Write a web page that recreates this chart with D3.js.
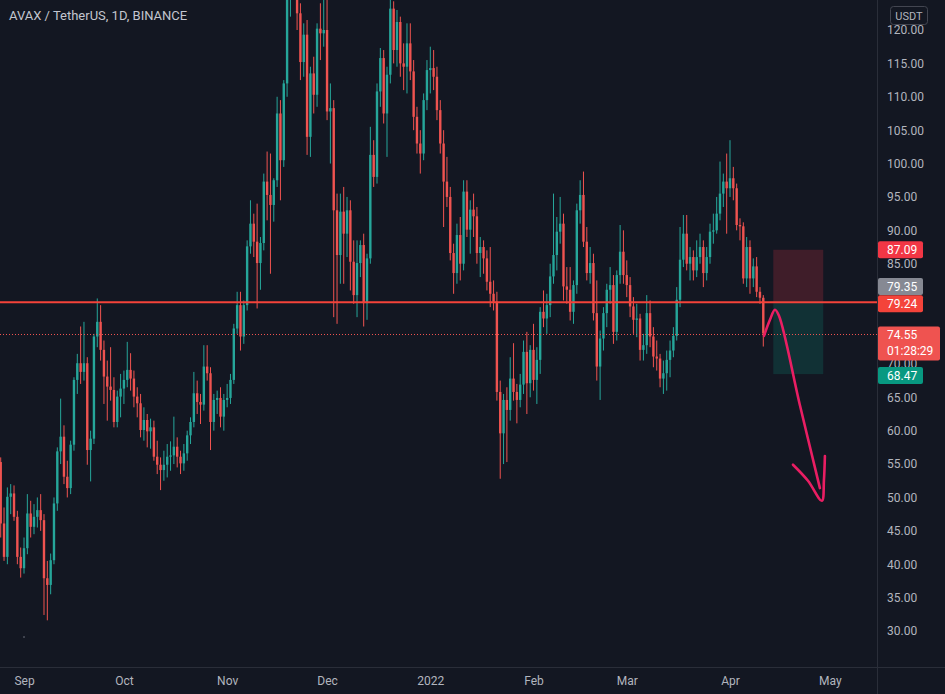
<!DOCTYPE html>
<html><head><meta charset="utf-8">
<script src="https://cdn.jsdelivr.net/npm/d3@7"></script>
<style>
html,body{margin:0;padding:0;background:#131722;overflow:hidden;}
svg{display:block;font-family:"Trebuchet MS",Roboto,"Noto Sans",sans-serif;}
</style></head><body>
<svg id="c" width="945" height="694"></svg>
<script>
// ---------- DATA ----------
const startDate = "2021-08-25";   // first daily candle
const opens = [55.3,46.1,41.1,50.1,50.6,47.1,41.1,39.4,42.4,47.6,
45.6,47.1,48.1,46.6,37.9,36.9,40.6,49.1,56.9,59.1,
53.1,51.4,57.9,67.6,70.1,68.8,70.1,57.1,58.8,74.1,
76.3,72.1,68.1,66.6,66.1,61.3,65.1,66.3,67.6,69.1,
67.8,65.1,64.1,60.1,61.6,59.9,60.5,56.1,54.9,54.1,
54.9,56.1,56.3,57.6,56.1,55.1,56.6,59.3,61.3,65.6,
64.3,63.9,69.6,68.6,61.3,64.6,64.9,62.1,64.6,64.9,
67.6,75.3,78.8,74.1,78.8,87.6,91.0,88.3,85.1,88.1,
97.3,95.3,93.8,97.5,107.5,100.5,112.0,126.0,132.0,138.0,
122.5,115.2,119.3,104.0,113.5,110.3,120.2,119.5,120.0,107.8,
108.3,93.0,86.3,92.8,89.5,93.0,85.3,80.3,85.1,87.8,
79.1,85.8,101.3,98.0,110.8,115.8,107.5,113.3,123.2,117.0,
121.2,115.0,114.5,118.0,113.8,107.0,103.0,101.5,109.5,114.0,
114.3,113.0,108.0,103.0,97.3,95.0,86.6,83.6,89.3,85.0,
95.8,90.1,93.1,92.1,86.6,87.5,85.8,82.3,80.5,79.3,
65.8,59.6,64.6,63.1,67.8,65.8,64.6,66.9,71.8,67.1,
72.1,67.6,70.6,77.8,76.8,78.8,83.1,86.3,89.8,91.0,
81.6,81.1,77.8,81.8,93.0,95.3,88.3,83.6,85.1,77.6,
69.6,73.8,77.6,81.1,81.8,74.8,83.3,86.8,83.3,81.8,
78.6,76.6,76.8,72.1,72.8,77.6,74.1,71.1,70.8,67.8,
68.6,70.6,72.0,74.2,79.6,85.6,89.5,85.0,86.0,84.0,
86.0,87.5,83.6,86.0,89.8,90.0,92.5,95.5,97.3,96.3,
97.8,96.3,90.8,90.6,82.8,87.5,82.8,84.6,80.8,79.9];
const highs = [56.0,48.5,51.5,52.0,51.8,48.0,42.5,44.0,50.5,49.5,
49.0,50.0,50.5,47.5,40.5,41.6,50.0,57.5,64.8,60.8,
55.5,58.5,68.0,71.5,75.6,76.3,71.0,60.0,74.5,79.8,
78.8,73.5,70.5,72.5,68.0,66.0,68.5,69.0,73.3,71.6,
69.0,66.5,65.5,63.5,62.5,61.8,61.5,58.5,56.0,57.0,
58.0,58.4,62.1,59.0,57.0,58.0,60.0,62.0,68.8,67.5,
65.5,72.8,72.8,69.5,65.5,66.0,66.5,65.5,67.0,68.5,
76.0,80.8,80.8,79.5,88.5,94.5,92.5,94.0,89.0,98.5,
101.8,101.5,97.8,110.0,109.5,112.5,128.0,134.0,146.0,140.0,
124.0,121.0,121.5,114.5,116.0,121.0,124.0,126.0,126.0,112.0,
109.5,95.5,95.5,96.5,95.0,94.5,88.5,88.5,88.5,89.5,
86.5,105.5,103.5,112.0,117.3,117.0,114.5,124.5,124.3,123.0,
122.0,118.0,121.0,121.0,115.5,108.5,105.0,110.5,115.5,117.5,
117.0,114.5,109.5,105.0,101.0,96.5,88.0,91.0,92.0,97.5,
97.5,94.5,95.5,93.5,89.0,88.5,87.0,87.5,82.5,80.8,
67.5,65.5,66.5,71.0,73.1,67.0,68.5,73.5,74.8,72.8,
76.0,72.5,78.5,81.0,80.5,85.0,95.5,92.0,95.0,92.5,
84.5,84.5,82.5,94.0,97.5,98.8,90.5,87.5,86.5,82.5,
75.0,78.5,82.0,84.5,83.3,84.0,90.8,90.0,85.5,83.0,
80.0,79.0,77.5,74.5,80.3,79.5,75.5,73.5,71.5,70.5,
72.0,73.5,75.5,81.5,90.5,92.3,92.3,87.5,87.0,88.5,
89.5,88.5,87.5,91.0,92.5,95.0,100.3,98.5,101.5,103.5,
99.5,97.0,91.8,91.2,89.0,88.5,85.8,86.0,81.5,80.3];
const lows = [44.0,40.5,40.0,47.5,46.5,40.0,38.0,38.6,41.5,44.0,
44.5,45.5,45.0,32.4,31.6,35.5,40.0,48.0,55.0,52.0,
50.0,50.5,57.0,65.5,67.0,67.5,54.9,52.4,58.0,72.5,
70.5,64.0,61.5,64.5,60.5,60.5,62.0,64.0,66.5,66.0,
63.5,62.0,59.0,58.5,57.5,57.3,55.5,53.5,51.1,52.5,
53.0,54.0,55.0,54.5,53.5,54.0,55.5,58.0,60.5,62.5,
61.0,63.0,67.5,57.1,60.0,62.5,60.5,60.0,63.5,64.0,
67.0,74.5,72.0,73.0,78.0,86.5,86.0,78.3,81.1,87.0,
91.5,83.5,91.3,96.5,94.5,99.5,110.0,122.0,128.0,120.0,
112.5,113.0,101.3,101.0,107.5,108.5,115.5,117.5,106.5,100.0,
77.0,76.0,82.0,82.0,86.0,81.0,79.0,77.0,83.0,75.6,
76.6,85.0,96.5,97.0,108.5,106.0,101.0,112.0,115.0,114.5,
113.0,111.0,110.5,112.5,105.0,101.5,98.5,100.5,108.0,110.5,
111.0,106.5,101.5,90.5,93.5,85.5,80.5,82.0,82.5,84.0,
89.0,86.5,89.0,85.0,83.0,83.5,81.0,78.5,78.0,64.5,
52.8,55.0,55.3,61.5,64.5,61.1,63.5,65.5,62.5,65.0,
66.0,64.0,68.5,75.5,74.5,77.0,82.0,84.0,88.0,79.5,
79.0,76.5,76.0,80.5,91.0,87.5,82.5,82.0,76.5,67.5,
64.6,72.0,75.5,79.0,73.0,73.5,82.0,82.0,80.0,77.0,
74.5,74.0,70.5,70.5,71.5,72.5,69.5,69.0,66.5,65.5,
66.0,68.0,71.0,73.5,78.5,84.5,84.0,82.5,82.5,83.0,
85.0,81.5,82.5,85.0,88.0,89.5,91.5,93.5,89.5,95.0,
94.5,90.0,88.5,82.0,81.5,80.5,81.5,80.0,79.0,72.6];
const closes = [46.1,41.1,50.1,50.6,47.1,41.1,39.4,42.4,47.6,45.6,
47.1,48.1,46.6,37.9,36.9,40.6,49.1,56.9,59.1,53.1,
51.4,57.9,67.6,70.1,68.8,70.1,57.1,58.8,74.1,76.3,
72.1,68.1,66.6,66.1,61.3,65.1,66.3,67.6,69.1,67.8,
65.1,64.1,60.1,61.6,59.9,60.5,56.1,54.9,54.1,54.9,
56.1,56.3,57.6,56.1,55.1,56.6,59.3,61.3,65.6,64.3,
63.9,69.6,68.6,61.3,64.6,64.9,62.1,64.6,64.9,67.6,
75.3,78.8,74.1,78.8,87.6,91.0,88.3,85.1,88.1,97.3,
95.3,93.8,97.5,107.5,100.5,112.0,126.0,132.0,138.0,122.5,
115.2,119.3,104.0,113.5,110.3,120.2,119.5,120.0,107.8,108.3,
93.0,86.3,92.8,89.5,93.0,85.3,80.3,85.1,87.8,79.1,
85.8,101.3,98.0,110.8,115.8,107.5,113.3,123.2,117.0,121.2,
115.0,114.5,118.0,113.8,107.0,103.0,101.5,109.5,114.0,114.3,
113.0,108.0,103.0,97.3,95.0,86.6,83.6,89.3,85.0,95.8,
90.1,93.1,92.1,86.6,87.5,85.8,82.3,80.5,79.3,65.8,
59.6,64.6,63.1,67.8,65.8,64.6,66.9,71.8,67.1,72.1,
67.6,70.6,77.8,76.8,78.8,83.1,86.3,89.8,91.0,81.6,
81.1,77.8,81.8,93.0,95.3,88.3,83.6,85.1,77.6,69.6,
73.8,77.6,81.1,81.8,74.8,83.3,86.8,83.3,81.8,78.6,
76.6,76.8,72.1,72.8,77.6,74.1,71.1,70.8,67.8,68.6,
70.6,72.0,74.2,79.6,85.6,89.5,85.0,86.0,84.0,86.0,
87.5,83.6,86.0,89.8,90.0,92.5,95.5,97.3,96.3,97.8,
96.3,90.8,90.6,82.8,87.5,82.8,84.6,80.8,79.9,74.55];

const monthTicks  = ["2021-09-01","2021-10-01","2021-11-01","2021-12-01","2022-01-01","2022-02-01","2022-03-01","2022-04-01","2022-05-01"];
const monthLabels = ["Sep","Oct","Nov","Dec","2022","Feb","Mar","Apr","May"];
// 75.00 and 80.00 sit under the price badges and are not visible in the chart
const priceTicks  = [30,35,40,45,50,55,60,65,70,85,90,95,100,105,110,115,120];

const title = "AVAX / TetherUS, 1D, BINANCE";
const currency = "USDT";
const levelLine = 79.24;
const lastPrice = 74.55;
const countdown = "01:28:29";
const posStart = "2022-04-14", posEnd = "2022-04-29";
const posStop = 87.09, posEntry = 79.35, posTarget = 68.47;
// hand-drawn arrow, [days since start, price]
const arrowShaft = [[229.2,74.2],[231.0,76.6],[232.5,78.1],[233.7,77.2],[240.0,63.8],[246.0,51.4]];
const arrowHead  = [[237.9,54.9],[242.4,52.5],[246.6,49.5],[247.2,52.6],[247.5,56.2]];

// ---------- LAYOUT ----------
const W = 945, H = 694, plotR = 877, plotB = 667;
const UP = "#26a69a", DN = "#ef5350";
const parse = d3.utcParse("%Y-%m-%d");
const t0 = parse(startDate);
const candles = opens.map((o,i)=>({date:d3.utcDay.offset(t0,i),o,h:highs[i],l:lows[i],c:closes[i]}));

const x = d3.scaleUtc().domain([t0, parse("2022-05-01")]).range([0.7, 829.9]);
const y = d3.scaleLinear().domain([30,120]).range([631,30]);
const dayAt = d => d3.utcHour.offset(t0, Math.round(d*24));

const svg = d3.select("#c");
svg.append("rect").attr("width",W).attr("height",H).attr("fill","#131722");
svg.append("defs").append("clipPath").attr("id","plot")
  .append("rect").attr("x",0).attr("y",0).attr("width",plotR).attr("height",plotB);

const plot = svg.append("g").attr("clip-path","url(#plot)");

// candles
const step = x(d3.utcDay.offset(t0,1)) - x(t0);
const bw = step*0.72;
const cg = plot.append("g");
cg.selectAll("rect.w").data(candles).join("rect").attr("class","w")
  .attr("x",d=>x(d.date)-0.5).attr("width",1)
  .attr("y",d=>y(d.h)).attr("height",d=>Math.max(1,y(d.l)-y(d.h)))
  .attr("fill",d=>d.c>=d.o?UP:DN);
cg.selectAll("rect.b").data(candles).join("rect").attr("class","b")
  .attr("x",d=>x(d.date)-bw/2).attr("width",bw)
  .attr("y",d=>y(Math.max(d.o,d.c))).attr("height",d=>Math.max(1,Math.abs(y(d.o)-y(d.c))))
  .attr("fill",d=>d.c>=d.o?UP:DN);

// position tool box
const px0 = x(parse(posStart)), px1 = x(parse(posEnd));
plot.append("rect").attr("x",px0).attr("width",px1-px0)
  .attr("y",y(posStop)).attr("height",y(posEntry)-y(posStop)).attr("fill","rgba(242,54,69,0.2)");
plot.append("rect").attr("x",px0).attr("width",px1-px0)
  .attr("y",y(posEntry)).attr("height",y(posTarget)-y(posEntry)).attr("fill","rgba(8,153,129,0.2)");

// horizontal level & last price line
plot.append("line").attr("x1",0).attr("x2",plotR).attr("y1",y(levelLine)).attr("y2",y(levelLine))
  .attr("stroke","#f4433a").attr("stroke-width",2);
plot.append("line").attr("x1",0).attr("x2",plotR).attr("y1",Math.round(y(lastPrice))+0.5).attr("y2",Math.round(y(lastPrice))+0.5)
  .attr("stroke",DN).attr("stroke-width",1).attr("stroke-dasharray","1,2");

// hand-drawn arrow
const ln = d3.line().x(d=>x(dayAt(d[0]))).y(d=>y(d[1])).curve(d3.curveCatmullRom.alpha(0.5));
plot.append("path").attr("d",ln(arrowShaft)).attr("fill","none").attr("stroke","#e91e63")
  .attr("stroke-width",2.6).attr("stroke-linecap","round").attr("stroke-linejoin","round");
plot.append("path").attr("d",ln(arrowHead)).attr("fill","none").attr("stroke","#e91e63")
  .attr("stroke-width",2.6).attr("stroke-linecap","round").attr("stroke-linejoin","round");

// tiny marker bottom-left
plot.append("circle").attr("cx",x(parse("2021-09-01"))).attr("cy",y(29.1)).attr("r",0.8).attr("fill","#787b86");

// separators
svg.append("line").attr("x1",plotR+0.5).attr("x2",plotR+0.5).attr("y1",0).attr("y2",H).attr("stroke","#2a2e39");
svg.append("line").attr("x1",0).attr("x2",W).attr("y1",plotB+0.5).attr("y2",plotB+0.5).attr("stroke","#2a2e39");

// axes
const yAxis = d3.axisRight(y).tickValues(priceTicks).tickFormat(d3.format(".2f")).tickSize(0).tickPadding(0);
const ya = svg.append("g").attr("transform",`translate(887,0)`).call(yAxis);
ya.select(".domain").remove();
ya.selectAll("text").attr("fill","#b2b5be").attr("font-size",12).attr("font-family","'Trebuchet MS',Roboto,sans-serif");

const xAxis = d3.axisBottom(x).tickValues(monthTicks.map(parse))
  .tickFormat((d,i)=>monthLabels[i]).tickSize(0).tickPadding(0);
const xa = svg.append("g").attr("transform",`translate(0,676)`).call(xAxis);
xa.select(".domain").remove();
xa.selectAll("text").attr("fill","#b2b5be").attr("font-size",12).attr("font-family","'Trebuchet MS',Roboto,sans-serif")
  .attr("dy","0.71em");

// currency box
svg.append("rect").attr("x",890.5).attr("y",6.5).attr("width",37).attr("height",18).attr("rx",3)
  .attr("fill","#131722").attr("stroke","#434651");
svg.append("text").attr("x",909).attr("y",19.5).attr("text-anchor","middle").attr("fill","#b2b5be")
  .attr("font-size",11).text(currency);

// price badges
const badges = [
  {v:posStop, txt:"87.09", col:"#f23645", dy:0},
  {v:posEntry, txt:"79.35", col:"#868993", dy:-15},
  {v:levelLine, txt:"79.24", col:"#f4433a", dy:1.5},
  {v:posTarget, txt:"68.47", col:"#089981", dy:1.5}
];
const bg = svg.append("g");
badges.forEach(b=>{
  const cy = y(b.v)+b.dy;
  bg.append("rect").attr("x",878).attr("y",cy-8.5).attr("width",45).attr("height",17).attr("rx",2).attr("fill",b.col);
  bg.append("text").attr("x",887).attr("y",cy).attr("dy","0.36em").attr("fill","#ffffff")
    .attr("font-size",12).text(b.txt);
});
const ly = y(lastPrice);
bg.append("rect").attr("x",878).attr("y",ly-7).attr("width",62).attr("height",34).attr("rx",2).attr("fill",DN);
bg.append("text").attr("x",887).attr("y",ly+1.5).attr("dy","0.36em").attr("fill","#fff").attr("font-size",12).text(d3.format(".2f")(lastPrice));
bg.append("text").attr("x",887).attr("y",ly+17).attr("dy","0.36em").attr("fill","#fff").attr("font-size",12).text(countdown);

// title
svg.append("text").attr("x",9).attr("y",20).attr("fill","#c3c6cf").attr("font-size",13).text(title);
</script>
</body></html>
